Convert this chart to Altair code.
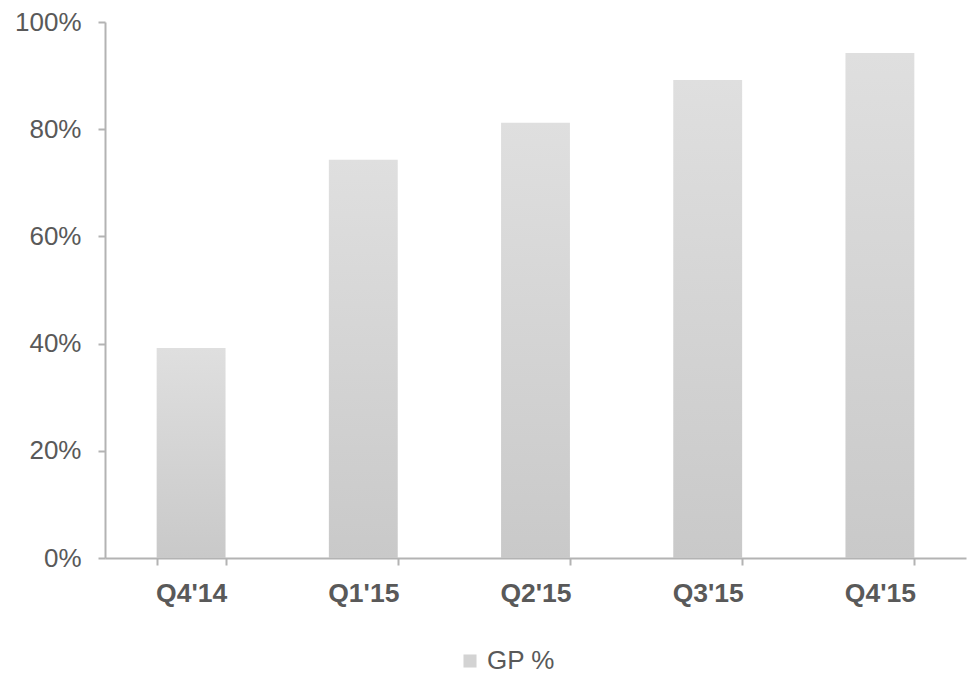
import altair as alt
import pandas as pd

quarters = ["Q4'14", "Q1'15", "Q2'15", "Q3'15", "Q4'15"]
gp_share = [0.392, 0.743, 0.812, 0.892, 0.942]
series_name = "GP %"

df = pd.DataFrame({"quarter": quarters, "gp": gp_share, "series": series_name})

FONT = "Liberation Sans"
AXIS_GRAY = "#b3b3b3"
LABEL_GRAY = "#595959"

x_enc = alt.X(
    "quarter:N",
    sort=quarters,
    scale=alt.Scale(paddingInner=0.6, paddingOuter=0.3),
    axis=alt.Axis(
        title=None,
        labelAngle=0,
        labelFont=FONT,
        labelFontSize=26.5,
        labelFontWeight="bold",
        labelColor=LABEL_GRAY,
        labelPadding=15,
        tickBand="extent",
        tickSize=7,
        tickColor=AXIS_GRAY,
        tickWidth=2,
        domainColor=AXIS_GRAY,
        domainWidth=2,
    ),
)

y_enc = alt.Y(
    "gp:Q",
    scale=alt.Scale(domain=[0, 1]),
    axis=alt.Axis(
        title=None,
        values=[0, 0.2, 0.4, 0.6, 0.8, 1.0],
        format=".0%",
        labelFont=FONT,
        labelFontSize=26,
        labelColor=LABEL_GRAY,
        labelPadding=17,
        tickSize=7,
        tickColor=AXIS_GRAY,
        tickWidth=2,
        domainColor=AXIS_GRAY,
        domainWidth=2,
        grid=False,
    ),
)

bars = alt.Chart(df).mark_bar(
    color=alt.Gradient(
        gradient="linear",
        stops=[
            alt.GradientStop(color="#dfdfdf", offset=0),
            alt.GradientStop(color="#c9c9c9", offset=1),
        ],
        x1=0, x2=0, y1=0, y2=1,
    )
).encode(x=x_enc, y=y_enc)

# Legend carrier: invisible squares whose color legend shows the series key
legend_layer = alt.Chart(df).mark_square(opacity=0, size=1).encode(
    x=alt.X("quarter:N", sort=quarters),
    y="gp:Q",
    color=alt.Color(
        "series:N",
        scale=alt.Scale(domain=[series_name], range=["#d3d3d3"]),
        legend=alt.Legend(
            title=None,
            orient="none",
            legendX=352,
            legendY=626,
            symbolType="square",
            symbolSize=170,
            symbolOpacity=1,
            symbolStrokeWidth=0,
            labelFont=FONT,
            labelFontSize=26,
            labelColor=LABEL_GRAY,
            labelOffset=4,
        ),
    ),
)

chart = (
    alt.layer(bars, legend_layer)
    .properties(
        width=861,
        height=536,
        background="white",
        autosize=alt.AutoSizeParams(type="none"),
        padding={"left": 105, "top": 22, "right": 5, "bottom": 120},
    )
    .configure_view(stroke=None, strokeWidth=0)
)

chart.save("out.html", embed_options={"renderer": "svg", "actions": False})
